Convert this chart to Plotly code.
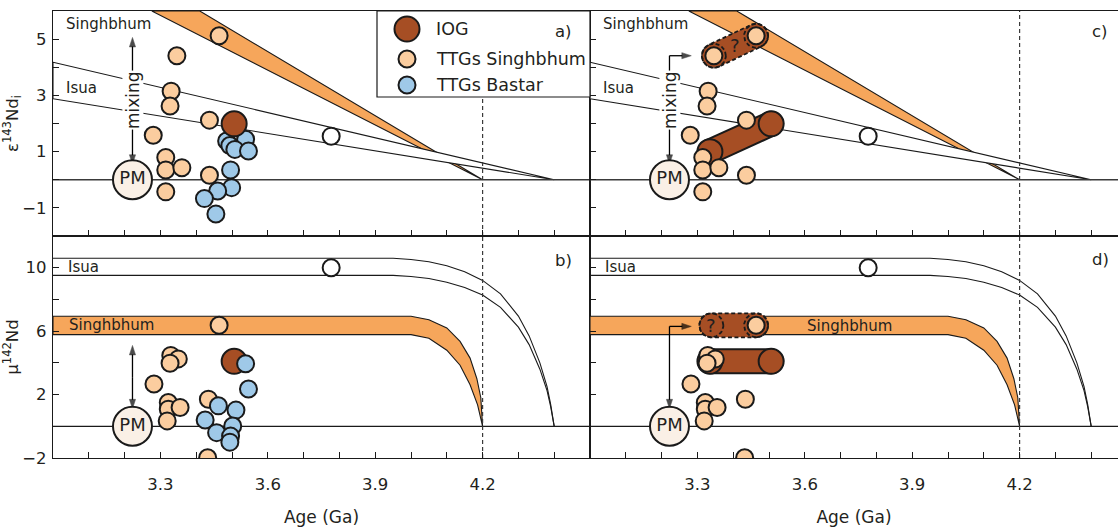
import math
import plotly.graph_objects as go

# ---------------- data ----------------
# epsilon143Nd_i panels (a, c)
ttg_s_age_eps = [3.464, 3.346, 3.330, 3.327, 3.280, 3.437, 3.315, 3.315, 3.360, 3.437, 3.315]
ttg_s_eps = [5.12, 4.41, 3.15, 2.62, 1.58, 2.12, 0.79, 0.35, 0.43, 0.16, -0.43]
ttg_b_age_eps = [3.485, 3.538, 3.494, 3.508, 3.546, 3.496, 3.499, 3.460, 3.423, 3.455]
ttg_b_eps = [1.38, 1.44, 1.22, 1.08, 1.02, 0.35, -0.28, -0.40, -0.67, -1.22]
# mu142Nd panels (b, d)
ttg_s_age_mu = [3.464, 3.329, 3.350, 3.327, 3.282, 3.322, 3.322, 3.355, 3.319, 3.434, 3.432]
ttg_s_mu = [6.37, 4.47, 4.25, 3.98, 2.67, 1.50, 1.08, 1.19, 0.34, 1.71, -1.99]
ttg_b_age_mu = [3.538, 3.546, 3.462, 3.511, 3.425, 3.502, 3.457, 3.496, 3.494]
ttg_b_mu = [3.94, 2.35, 1.29, 1.02, 0.40, 0.02, -0.40, -0.62, -1.00]

iog_age = [3.506]
iog_eps = [1.99]
iog_mu = [4.1]
iog_young_age = [3.335]      # left end of IOG mixing band (c, d)
iog_young_eps = [1.0]
iog_young_mu = [4.1]
isua_smp_age = [3.777]
isua_smp_eps = [1.55]
isua_smp_mu = [10.0]
pm_age = [3.222]
pm_val = [0.0]

# hypothetical Singhbhum end-members ("?")
q_c_ages = [3.346, 3.464]
q_c_eps = [4.41, 5.12]
q_d_ages = [3.339, 3.464]
q_d_mu = [6.37, 6.37]

# model envelopes, epsilon143Nd
isua_eps_age = [3.0, 4.4]
isua_eps_hi = [4.18, 0.0]
isua_eps_lo = [2.88, 0.0]
singh_eps_age_lo = [3.276, 4.2]
singh_eps_age_hi = [3.410, 4.2]
singh_eps_edge = [6.0, 0.0]

# model envelopes, mu142Nd
isua_mu_age = [3.0, 3.95, 4.0, 4.05, 4.1, 4.15, 4.2, 4.25, 4.3, 4.33, 4.36, 4.38, 4.39, 4.4]
isua_mu_hi = [10.6, 10.6, 10.52, 10.38, 10.12, 9.75, 9.2, 8.35, 6.95, 5.7, 4.0, 2.5, 1.4, 0.0]
isua_mu_lo = [9.52, 9.52, 9.45, 9.32, 9.08, 8.75, 8.28, 7.5, 6.25, 5.15, 3.6, 2.25, 1.25, 0.0]
singh_mu_age_hi = [3.0, 4.0, 4.05, 4.1, 4.137, 4.165, 4.184, 4.195, 4.2]
singh_mu_hi = [6.94, 6.94, 6.72, 6.2, 5.35, 4.3, 3.0, 1.8, 0.0]
singh_mu_age_lo = [3.0, 4.0, 4.05, 4.1, 4.137, 4.165, 4.186, 4.2]
singh_mu_lo = [5.78, 5.78, 5.55, 4.8, 3.85, 2.62, 1.35, 0.0]

cutoff_age = 4.2
mix_eps_a = [0.55, 5.06]
mix_mu_b = [1.1, 5.1]
mix_text_eps = 2.85
mix_c_corner = 4.41
mix_d_corner = 6.3
mix_tip_age = 3.283

x_tickvals = [round(3.0 + 0.1 * i, 1) for i in range(16)]
x_ticktext = ["3.3" if v == 3.3 else "3.6" if v == 3.6 else "3.9" if v == 3.9 else "4.2" if v == 4.2 else "" for v in x_tickvals]
eps_tickvals = [-2, -1, 0, 1, 2, 3, 4, 5, 6]
eps_ticktext = ["", "\u22121", "", "1", "", "3", "", "5", ""]
mu_tickvals = [-2, 0, 2, 4, 6, 8, 10, 12]
mu_ticktext = ["\u22122", "", "2", "", "6", "", "10", ""]

# ---------------- layout geometry ----------------
W, H = 1118, 527
ML, MR, MT, MB = 53, 0, 11, 69
PW = W - ML - MR
PH = H - MT - MB
LEFT_W = 537
BOT_H = 222
X_RANGE_L = [3.0, 4.5]
SX = LEFT_W / (X_RANGE_L[1] - X_RANGE_L[0])
X_RANGE_R = [3.0, 3.0 + (PW - LEFT_W) / SX]
EPS_RANGE = [-2, 6]
MU_RANGE = [-2, 12]
SY_EPS = (PH - BOT_H) / (EPS_RANGE[1] - EPS_RANGE[0])
SY_MU = BOT_H / (MU_RANGE[1] - MU_RANGE[0])

FONT = "DejaVu Sans, Liberation Sans, Arial, sans-serif"
TXT = "#231f20"
EDGE = "#1a1a1a"
ORANGE_BAND = "#F6A65B"
TTG_S = "#FBCD9F"
TTG_B = "#9FC9E8"
IOG = "#A64E24"
PM_FILL = "#FAF0E6"
DASH = "4px,2.5px"

fig = go.Figure()


def add(trace):
    trace.update(showlegend=False, hoverinfo="skip")
    fig.add_trace(trace)


def line(xa, ya, x, y, color=EDGE, width=1.1, dash=None, fill=None, fillcolor=None):
    add(go.Scatter(x=x, y=y, mode="lines", xaxis=xa, yaxis=ya, fill=fill, fillcolor=fillcolor,
                   line=dict(color=color, width=width, dash=dash)))


def markers(xa, ya, x, y, color, size=17, lw=2):
    add(go.Scatter(x=x, y=y, mode="markers", xaxis=xa, yaxis=ya,
                   marker=dict(size=size, color=color, line=dict(color=EDGE, width=lw))))


def arrow(xa, ya, x, y):
    # line from the first point to the last one, with an arrow head at the last point
    add(go.Scatter(x=x, y=y, mode="lines+markers", xaxis=xa, yaxis=ya,
                   line=dict(color="#000000", width=1.3),
                   marker=dict(symbol="arrow", angleref="previous", size=[0, 10], color="#000000",
                               line=dict(width=0.5, color="#000000"))))


def capsule(p0, p1, r, sy, n=30):
    X0, Y0 = p0[0] * SX, p0[1] * sy
    X1, Y1 = p1[0] * SX, p1[1] * sy
    a = math.atan2(Y1 - Y0, X1 - X0)
    xs, ys = [], []
    for i in range(n + 1):
        t = a - math.pi / 2 + math.pi * i / n
        xs.append((X1 + r * math.cos(t)) / SX)
        ys.append((Y1 + r * math.sin(t)) / sy)
    for i in range(n + 1):
        t = a + math.pi / 2 + math.pi * i / n
        xs.append((X0 + r * math.cos(t)) / SX)
        ys.append((Y0 + r * math.sin(t)) / sy)
    xs.append(xs[0])
    ys.append(ys[0])
    return xs, ys


def circle(p, r, sy, n=48):
    xs, ys = [], []
    for i in range(n + 1):
        t = 2 * math.pi * i / n
        xs.append((p[0] * SX + r * math.cos(t)) / SX)
        ys.append((p[1] * sy + r * math.sin(t)) / sy)
    return xs, ys


def pm(xa, ya):
    add(go.Scatter(x=pm_age, y=pm_val, mode="markers+text", text=["PM"], textposition="middle center",
                   textfont=dict(size=18, color=TXT, family=FONT), xaxis=xa, yaxis=ya,
                   marker=dict(size=39, color=PM_FILL, line=dict(color=EDGE, width=2))))


# ---------------- panel a (x, y) and c (x2, y2): epsilon ----------------
for xa, ya, xr in (("x", "y", X_RANGE_L), ("x2", "y2", X_RANGE_R)):
    sx_poly = singh_eps_age_lo + singh_eps_age_hi[::-1] + [singh_eps_age_lo[0]]
    sy_poly = singh_eps_edge + singh_eps_edge[::-1] + [singh_eps_edge[0]]
    line(xa, ya, sx_poly, sy_poly, fill="toself", fillcolor=ORANGE_BAND, width=1.1)
    ix = isua_eps_age + isua_eps_age[::-1] + [isua_eps_age[0]]
    iy = isua_eps_hi + isua_eps_lo[::-1] + [isua_eps_hi[0]]
    line(xa, ya, ix, iy, fill="toself", fillcolor="white", width=1.1)
    line(xa, ya, [xr[0], xr[1]], [0, 0], color="#3a3a3a", width=1.4)
    line(xa, ya, [cutoff_age, cutoff_age], EPS_RANGE, color="#3a3a3a", width=1.2, dash="4px,3px")

# mixing arrows (a: double-headed, c: L-shaped)
arrow("x", "y", [pm_age[0], pm_age[0]], [mix_text_eps, mix_eps_a[1]])
arrow("x", "y", [pm_age[0], pm_age[0]], [mix_text_eps, mix_eps_a[0]])
arrow("x2", "y2", [pm_age[0], pm_age[0]], [mix_c_corner, mix_eps_a[0]])
arrow("x2", "y2", [pm_age[0], mix_tip_age], [mix_c_corner, mix_c_corner])

# panel a points
pm("x", "y")
markers("x", "y", isua_smp_age, isua_smp_eps, "white")
markers("x", "y", ttg_s_age_eps, ttg_s_eps, TTG_S)
markers("x", "y", ttg_b_age_eps, ttg_b_eps, TTG_B)
markers("x", "y", iog_age, iog_eps, IOG, size=25)

# panel c
pm("x2", "y2")
cx, cy = capsule((iog_young_age[0], iog_young_eps[0]), (iog_age[0], iog_eps[0]), 12, SY_EPS)
line("x2", "y2", cx, cy, fill="toself", fillcolor=IOG, width=2)
markers("x2", "y2", iog_young_age, iog_young_eps, IOG, size=25)
qx, qy = capsule((q_c_ages[0], q_c_eps[0]), (q_c_ages[1], q_c_eps[1]), 12, SY_EPS)
line("x2", "y2", qx, qy, fill="toself", fillcolor=IOG, width=1.8, dash=DASH)
for a_, e_ in zip(q_c_ages, q_c_eps):
    ccx, ccy = circle((a_, e_), 12, SY_EPS)
    line("x2", "y2", ccx, ccy, width=1.8, dash=DASH)
markers("x2", "y2", isua_smp_age, isua_smp_eps, "white")
markers("x2", "y2", ttg_s_age_eps, ttg_s_eps, TTG_S)
markers("x2", "y2", iog_age, iog_eps, IOG, size=25)

# ---------------- panel b (x3, y3) and d (x4, y4): mu ----------------
for xa, ya, xr in (("x3", "y3", X_RANGE_L), ("x4", "y4", X_RANGE_R)):
    line(xa, ya, isua_mu_age, isua_mu_hi, width=1.1)
    line(xa, ya, isua_mu_age, isua_mu_lo, width=1.1)
    bx = singh_mu_age_hi + singh_mu_age_lo[::-1] + [singh_mu_age_hi[0]]
    by = singh_mu_hi + singh_mu_lo[::-1] + [singh_mu_hi[0]]
    line(xa, ya, bx, by, fill="toself", fillcolor=ORANGE_BAND, width=1.1)
    line(xa, ya, [xr[0], xr[1]], [0, 0], color=EDGE, width=1.3)
    line(xa, ya, [cutoff_age, cutoff_age], MU_RANGE, color="#3a3a3a", width=1.2, dash="4px,3px")

arrow("x3", "y3", [pm_age[0], pm_age[0]], [sum(mix_mu_b) / 2, mix_mu_b[1]])
arrow("x3", "y3", [pm_age[0], pm_age[0]], [sum(mix_mu_b) / 2, mix_mu_b[0]])
arrow("x4", "y4", [pm_age[0], pm_age[0]], [mix_d_corner, mix_mu_b[0]])
arrow("x4", "y4", [pm_age[0], mix_tip_age], [mix_d_corner, mix_d_corner])

pm("x3", "y3")
markers("x3", "y3", isua_smp_age, isua_smp_mu, "white")
markers("x3", "y3", ttg_s_age_mu, ttg_s_mu, TTG_S)
markers("x3", "y3", iog_age, iog_mu, IOG, size=25)
markers("x3", "y3", ttg_b_age_mu, ttg_b_mu, TTG_B)

pm("x4", "y4")
cx, cy = capsule((iog_young_age[0], iog_young_mu[0]), (iog_age[0], iog_mu[0]), 12, SY_MU)
line("x4", "y4", cx, cy, fill="toself", fillcolor=IOG, width=2)
markers("x4", "y4", iog_young_age, iog_young_mu, IOG, size=25)
qx, qy = capsule((q_d_ages[0], q_d_mu[0]), (q_d_ages[1], q_d_mu[1]), 12, SY_MU)
line("x4", "y4", qx, qy, fill="toself", fillcolor=IOG, width=1.8, dash=DASH)
for a_, m_ in zip(q_d_ages, q_d_mu):
    ccx, ccy = circle((a_, m_), 12, SY_MU)
    line("x4", "y4", ccx, ccy, width=1.8, dash=DASH)
markers("x4", "y4", isua_smp_age, isua_smp_mu, "white")
markers("x4", "y4", ttg_s_age_mu, ttg_s_mu, TTG_S)
markers("x4", "y4", iog_age, iog_mu, IOG, size=25)

# ---------------- annotations ----------------
ann = []


def text(xa, ya, x, y, s, size=15, xanchor="left", **kw):
    ann.append(dict(xref=xa, yref=ya, x=x, y=y, text=s, showarrow=False, xanchor=xanchor,
                    font=dict(size=size, color=TXT, family=FONT), **kw))


# labels
text("x", "y", 3.03, 5.55, "Singhbhum")
text("x", "y", 3.03, 3.28, "Isua")
text("x2", "y2", 3.03, 5.55, "Singhbhum")
text("x2", "y2", 3.03, 3.28, "Isua")
text("x3", "y3", 3.04, 6.38, "Singhbhum")
text("x3", "y3", 3.035, 10.05, "Isua")
text("x4", "y4", 3.725, 6.3, "Singhbhum", xanchor="center")
text("x4", "y4", 3.035, 10.05, "Isua")
text("x2", "y2", (q_c_ages[0] + q_c_ages[1]) / 2, (q_c_eps[0] + q_c_eps[1]) / 2, "?", size=18, xanchor="center")
text("x4", "y4", q_d_ages[0], q_d_mu[0], "?", size=18, xanchor="center")

for xa, ya in (("x", "y"), ("x2", "y2")):
    text(xa, ya, pm_age[0], mix_text_eps, "mixing", size=17, xanchor="center", textangle=-90,
         bgcolor="white", borderpad=0)


def px2paper(px, py):
    return (px - ML) / PW, (H - MB - py) / PH


# panel letters
for s, px, py in (("a)", 563, 31), ("b)", 563, 260), ("c)", 1100, 31), ("d)", 1100, 259)):
    xp, yp = px2paper(px, py)
    ann.append(dict(xref="paper", yref="paper", x=xp, y=yp, text=s, showarrow=False,
                    xanchor="center", yanchor="middle", font=dict(size=16.5, color=TXT, family=FONT)))

# manual legend
shapes = []
lx0, ly0 = px2paper(377, 97)
lx1, ly1 = px2paper(590, 11)
shapes.append(dict(type="rect", xref="paper", yref="paper", x0=lx0, y0=ly0, x1=lx1, y1=ly1,
                   fillcolor="white", line=dict(color=EDGE, width=1.2), layer="above"))
for name, col, d, py in (("IOG", IOG, 25, 29), ("TTGs Singhbhum", TTG_S, 17, 59), ("TTGs Bastar", TTG_B, 17, 85)):
    xp, yp = px2paper(407, py)
    shapes.append(dict(type="circle", xref="paper", yref="paper", xsizemode="pixel", ysizemode="pixel",
                       xanchor=xp, yanchor=yp, x0=-d / 2, x1=d / 2, y0=-d / 2, y1=d / 2,
                       fillcolor=col, line=dict(color=EDGE, width=2), layer="above"))
    tx, ty = px2paper(434, py)
    ann.append(dict(xref="paper", yref="paper", x=tx, y=ty, text=name, showarrow=False,
                    xanchor="left", yanchor="middle", font=dict(size=17.5, color=TXT, family=FONT)))

# ---------------- axes ----------------
xd_l = [0, LEFT_W / PW]
xd_r = [LEFT_W / PW, 1]
yd_b = [0, BOT_H / PH]
yd_t = [BOT_H / PH, 1]

common = dict(showgrid=False, zeroline=False, showline=True, linecolor=EDGE, linewidth=1.2,
              ticks="inside", ticklen=6, tickwidth=1.2, tickcolor=EDGE, automargin=False,
              tickfont=dict(size=16.5, color=TXT, family=FONT))


def xaxis(domain, rng, anchor, labels):
    d = dict(common, domain=domain, range=rng, anchor=anchor, tickvals=x_tickvals,
             ticktext=x_ticktext, showticklabels=labels, mirror=True)
    if labels:
        d.update(ticklabelstandoff=11,
                 title=dict(text="Age (Ga)", font=dict(size=17, color=TXT, family=FONT), standoff=21))
    return d


def yaxis(domain, rng, anchor, tv, tt, labels, title=None, mirror=True):
    d = dict(common, domain=domain, range=rng, anchor=anchor, tickvals=tv, ticktext=tt,
             showticklabels=labels, mirror=mirror, ticklabelstandoff=2)
    if title:
        d.update(title=dict(text=title, font=dict(size=16.5, color=TXT, family=FONT), standoff=7))
    return d


fig.update_layout(
    width=W, height=H, margin=dict(l=ML, r=MR, t=MT, b=MB, autoexpand=False),
    paper_bgcolor="white", plot_bgcolor="white", font=dict(family=FONT, color=TXT),
    xaxis=xaxis(xd_l, X_RANGE_L, "y", False),
    yaxis=yaxis(yd_t, EPS_RANGE, "x", eps_tickvals, eps_ticktext, True, "\u03b5<sup>143</sup>Nd<sub>i</sub>"),
    xaxis2=xaxis(xd_r, X_RANGE_R, "y2", False),
    yaxis2=yaxis(yd_t, EPS_RANGE, "x2", eps_tickvals, eps_ticktext, False, mirror=False),
    xaxis3=xaxis(xd_l, X_RANGE_L, "y3", True),
    yaxis3=yaxis(yd_b, MU_RANGE, "x3", mu_tickvals, mu_ticktext, True, "\u03bc<sup>142</sup>Nd"),
    xaxis4=xaxis(xd_r, X_RANGE_R, "y4", True),
    yaxis4=yaxis(yd_b, MU_RANGE, "x4", mu_tickvals, mu_ticktext, False, mirror=False),
    annotations=ann, shapes=shapes,
)

fig.write_html("out.html", config={"displayModeBar": False},
               post_script="document.body.style.margin='0px';document.body.style.overflow='hidden';")
